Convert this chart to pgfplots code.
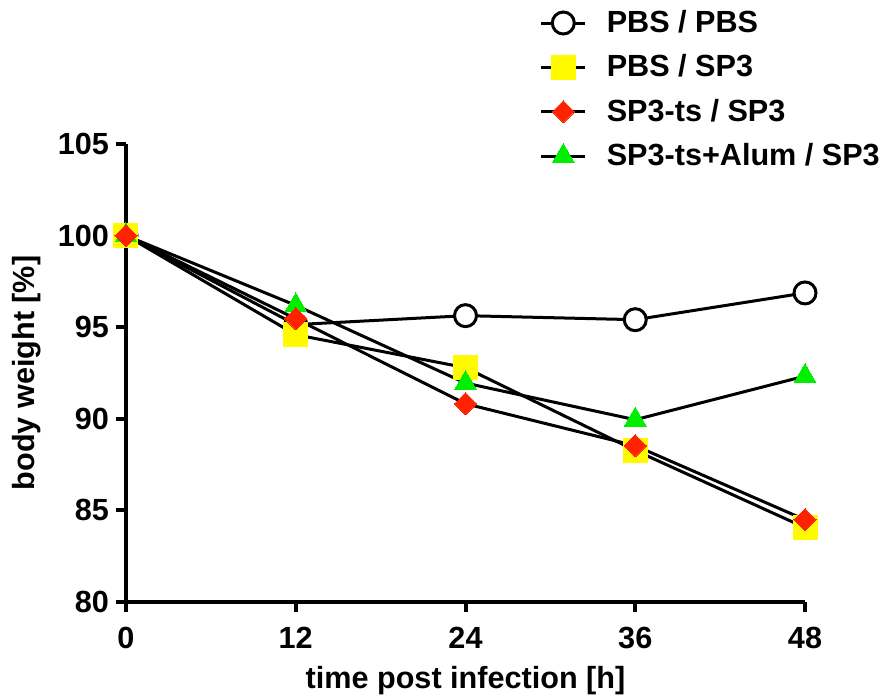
\documentclass[border=0pt]{standalone}
\usepackage{fontspec}
\setmainfont{Liberation Sans}
\usepackage{pgfplots}
\pgfplotsset{compat=1.18}
\definecolor{myyellow}{RGB}{255,250,0}
\definecolor{myred}{RGB}{255,34,0}
\definecolor{mygreen}{RGB}{0,238,0}
\begin{document}
\begin{tikzpicture}
\useasboundingbox (-63pt,-48.5pt) rectangle (380.5pt,301pt);
\begin{axis}[
  at={(0,0)}, anchor=south west,
  scale only axis, width=339.5pt, height=229pt,
  xmin=0, xmax=48, ymin=80, ymax=105,
  xtick={0,12,24,36,48}, ytick={80,85,90,95,100,105},
  axis x line*=bottom, axis y line*=left,
  axis line style={line width=2pt,-},
  xtick pos=left, ytick pos=left,
  tick align=outside, major tick length=5pt,
  tick style={line width=2pt, black},
  clip=false,
  font=\fontsize{15.3}{18}\selectfont\bfseries,
  tick label style={font=\fontsize{15.3}{18}\selectfont\bfseries},
  xticklabel style={yshift=-4pt},
  /pgf/number format/assume math mode=true,
  xlabel={time post infection [h]},
  ylabel={body weight [\%]},
  xlabel style={at={(axis description cs:0.5,-0.172)}, anchor=center},
  ylabel style={at={(axis description cs:-0.147,0.5)}, anchor=center, rotate=0},
  legend style={at={(axis description cs:0.60,1.31)}, anchor=north west, draw=none, fill=none,
    font=\fontsize{15.3}{18}\selectfont\bfseries, row sep=5.6pt, column sep=8pt},
  legend cell align=left,
  legend image code/.code={\draw[mark repeat=2,mark phase=2] plot coordinates {(0pt,0pt) (11pt,0pt) (22pt,0pt)};},
]
\addlegendimage{black, line width=1.5pt, mark=*, mark size=5.5pt, mark options={fill=white, draw=black, line width=1.5pt}}
\addlegendentry{PBS / PBS}
\addlegendimage{black, line width=1.5pt, mark=square*, mark size=6pt, mark options={fill=myyellow, draw=myyellow, line width=0pt}}
\addlegendentry{PBS / SP3}
\addlegendimage{black, line width=1.5pt, mark=square*, mark size=3.9pt, mark options={fill=myred, draw=myred, line width=0pt, rotate=45}}
\addlegendentry{SP3-ts / SP3}
\addlegendimage{black, line width=1.5pt, mark=triangle*, mark size=6.3pt, mark options={fill=mygreen, draw=mygreen, line width=0pt}}
\addlegendentry{SP3-ts+Alum / SP3}

% lines
\addplot[forget plot, black, line width=1.5pt] coordinates {(0,100) (12,95.14) (24,95.63) (36,95.41) (48,96.87)};
\addplot[forget plot, black, line width=1.5pt] coordinates {(0,100) (12,94.59) (24,92.79) (36,88.27) (48,84.06)};
\addplot[forget plot, black, line width=1.5pt] coordinates {(0,100) (12,96.19) (24,91.95) (36,89.95) (48,92.33)};
\addplot[forget plot, black, line width=1.5pt] coordinates {(0,100) (12,95.46) (24,90.82) (36,88.53) (48,84.49)};
% marks
\addplot[forget plot, only marks, mark=*, mark size=5.5pt, mark options={fill=white, draw=black, line width=1.5pt}] coordinates {(0,100) (12,95.14) (24,95.63) (36,95.41) (48,96.87)};
\addplot[forget plot, only marks, mark=square*, mark size=6pt, mark options={fill=myyellow, draw=myyellow, line width=0pt}] coordinates {(0,100) (12,94.59) (24,92.79) (36,88.27) (48,84.06)};
\addplot[forget plot, only marks, mark=triangle*, mark size=6.3pt, mark options={fill=mygreen, draw=mygreen, line width=0pt}] coordinates {(0,100) (12,96.19) (24,91.95) (36,89.95) (48,92.33)};
\addplot[forget plot, only marks, mark=square*, mark size=3.9pt, mark options={fill=myred, draw=myred, line width=0pt, rotate=45}] coordinates {(0,100) (12,95.46) (24,90.82) (36,88.53) (48,84.49)};
\end{axis}
\end{tikzpicture}
\end{document}
